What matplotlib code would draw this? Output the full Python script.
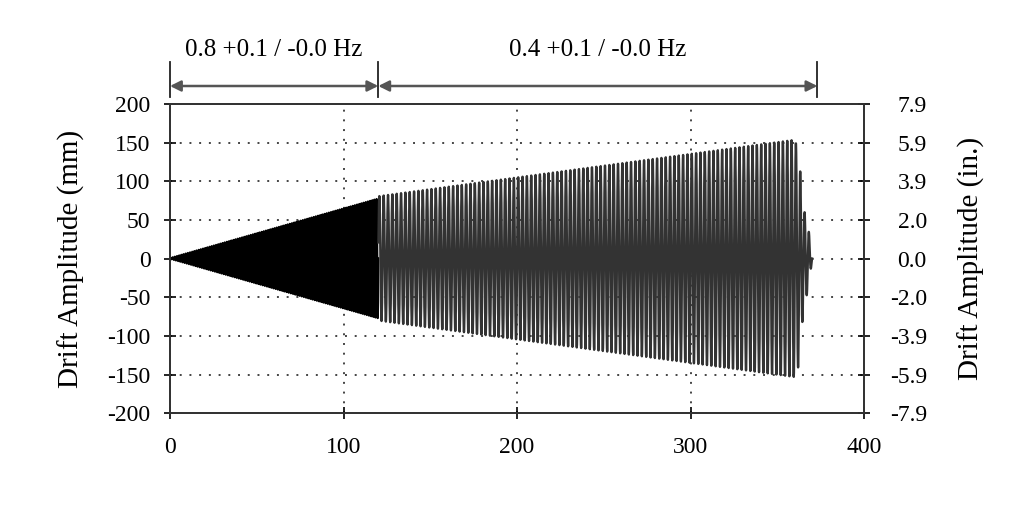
import matplotlib.pyplot as plt
import numpy as np
from matplotlib.transforms import blended_transform_factory

plt.rcParams["font.family"] = ["Liberation Serif", "DejaVu Serif"]
plt.rcParams["axes.unicode_minus"] = False

# loading protocol
seg_start = [0, 120]          # s
seg_end = [120, 360]          # s
seg_freq = [0.8, 0.4]         # Hz
seg_amp_start = [0, 80]       # mm
seg_amp_end = [77, 153]       # mm

# ramp-down at the end of the test
tail_t = [360, 362, 365, 368, 370]
tail_amp = [153, 140, 66, 36, 0]
tail_freq = 0.4

band_edges = [0, 120, 373]
band_labels = ["0.8 +0.1 / -0.0 Hz", "0.4 +0.1 / -0.0 Hz"]

y_ticks_mm = [200, 150, 100, 50, 0, -50, -100, -150, -200]
x_ticks = [0, 100, 200, 300, 400]


def build_signal():
    ts, ys = [], []
    for t0, t1, f, a0, a1 in zip(seg_start, seg_end, seg_freq, seg_amp_start, seg_amp_end):
        n_cyc = int(round((t1 - t0) * f))
        for k in range(n_cyc):
            amp = a0 + (a1 - a0) * (k + 1) / n_cyc
            t = np.linspace(t0 + k / f, t0 + (k + 1) / f, 24, endpoint=False)
            ts.append(t)
            ys.append(amp * np.sin(2 * np.pi * f * (t - t0)))
    t = np.linspace(tail_t[0], tail_t[-1], 400)
    ts.append(t)
    ys.append(np.interp(t, tail_t, tail_amp) * np.sin(2 * np.pi * tail_freq * (t - tail_t[0])))
    return np.concatenate(ts), np.concatenate(ys)


t, y = build_signal()

fig = plt.figure(figsize=(10.24, 5.12), dpi=100)
ax = fig.add_axes([0.166, 0.193, 0.678, 0.604])

first = t <= seg_end[0]
ax.plot(t[first], y[first], color="black", lw=1.6, zorder=2)
ax.plot(t[~first], y[~first], color="#333333", lw=1.7, zorder=2)

ax.set_xlim(0, 400)
ax.set_ylim(-200, 200)
ax.set_xticks(x_ticks)
ax.set_yticks(y_ticks_mm)
ax.grid(True, linestyle=(0, (1, 4)), color="#444444", lw=1.4, zorder=1)
ax.tick_params(direction="inout", length=8, width=1.2, labelsize=17)
ax.tick_params(axis="y", pad=10)
ax.tick_params(axis="x", pad=13)
for s in ax.spines.values():
    s.set_linewidth(1.3)
    s.set_color("#333333")
ax.set_ylabel("Drift Amplitude (mm)", fontsize=21, labelpad=16)

ax2 = ax.twinx()
ax2.set_ylim(-200, 200)
ax2.set_yticks(y_ticks_mm)
ax2.set_yticklabels([f"{v / 25.4:.1f}" for v in y_ticks_mm], ha="right")
ax2.tick_params(direction="inout", length=8, width=1.2, labelsize=17, pad=41)
ax2.set_ylabel("Drift Amplitude (in.)", fontsize=21, labelpad=22)
for s in ax2.spines.values():
    s.set_linewidth(1.3)
    s.set_color("#333333")

# frequency bands above the plot
tr = blended_transform_factory(ax.transData, ax.transAxes)
for xe in band_edges:
    ax.plot([xe, xe], [1.023, 1.136], transform=tr, color="#222222", lw=1.3, clip_on=False)
for x0, x1, lab in zip(band_edges[:-1], band_edges[1:], band_labels):
    ax.annotate("", xy=(x0, 1.058), xytext=(x1, 1.058), xycoords=tr, textcoords=tr,
                arrowprops=dict(arrowstyle="<|-|>", color="#555555", lw=1.8,
                                mutation_scale=16, shrinkA=0, shrinkB=0))
    ax.text((x0 + x1) / 2, 1.175, lab, transform=tr, ha="center", va="center", fontsize=18)

fig.savefig("out.png", dpi=100)
plt.close(fig)
